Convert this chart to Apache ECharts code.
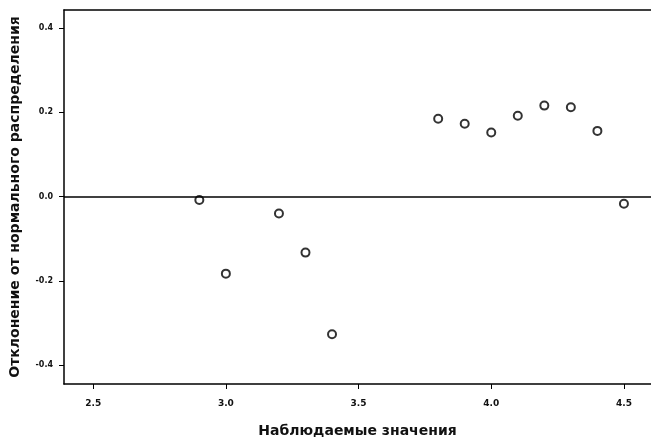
<!DOCTYPE html>
<html>
<head>
<meta charset="utf-8">
<script src="https://cdn.jsdelivr.net/npm/echarts@6/dist/echarts.min.js"></script>
<style>html,body{margin:0;padding:0;background:#fff;}#c{width:651px;height:439px;}</style>
</head>
<body>
<div id="c"></div>
<script>
var observed = [2.9, 3.0, 3.2, 3.3, 3.4, 3.8, 3.9, 4.0, 4.1, 4.2, 4.3, 4.4, 4.5];
var deviation = [-0.008, -0.183, -0.040, -0.133, -0.327, 0.185, 0.173, 0.152, 0.192, 0.216, 0.212, 0.156, -0.017];
var xTicks = [2.5, 3.0, 3.5, 4.0, 4.5];
var yTicks = [-0.4, -0.2, 0.0, 0.2, 0.4];
var xTitle = 'Наблюдаемые значения';
var yTitle = 'Отклонение от нормального распределения';

var points = observed.map(function (x, i) { return [x, deviation[i]]; });
var chart = echarts.init(document.getElementById('c'));
chart.setOption({
  backgroundColor: '#fff',
  animation: false,
  grid: { left: 64, top: 10, right: 0, bottom: 55, outerBoundsMode: 'none', containLabel: false },
  xAxis: [{
    type: 'value', min: 2.39, max: 4.602,
    name: xTitle, nameLocation: 'middle', nameGap: 40,
    nameTextStyle: { fontFamily: 'DejaVu Sans', fontSize: 14, fontWeight: 'bold', color: '#111' },
    axisLine: { onZero: false, lineStyle: { color: '#000', width: 1.5 } },
    axisTick: { show: true, length: 5, lineStyle: { color: '#000', width: 1 }, customValues: xTicks },
    axisLabel: { customValues: xTicks, margin: 15, fontFamily: 'DejaVu Sans', fontSize: 9, fontWeight: 'bold', color: '#111',
      formatter: function (v) { return v.toFixed(1); } },
    splitLine: { show: false }
  }, {
    type: 'value', position: 'top', min: 2.39, max: 4.602,
    axisLine: { show: true, onZero: false, lineStyle: { color: '#000', width: 1.5 } },
    axisTick: { show: false }, axisLabel: { show: false }, splitLine: { show: false }
  }],
  yAxis: {
    type: 'value', min: -0.445, max: 0.443,
    name: yTitle, nameLocation: 'middle', nameGap: 42,
    nameTextStyle: { fontFamily: 'DejaVu Sans', fontSize: 14, fontWeight: 'bold', color: '#111' },
    axisLine: { show: true, onZero: false, lineStyle: { color: '#000', width: 1.5 } },
    axisTick: { show: true, length: 5, lineStyle: { color: '#000', width: 1 }, customValues: yTicks },
    axisLabel: { customValues: yTicks, margin: 11, fontFamily: 'DejaVu Sans', fontSize: 8, fontWeight: 'bold', color: '#111',
      formatter: function (v) { return v.toFixed(1); } },
    splitLine: { show: false }
  },
  series: [{
    type: 'scatter',
    data: points,
    symbol: 'circle',
    symbolSize: 8,
    itemStyle: { color: '#fff', borderColor: '#000', borderWidth: 2 },
    markLine: {
      silent: true, symbol: 'none', label: { show: false },
      lineStyle: { color: '#000', width: 1.5, type: 'solid' },
      data: [{ yAxis: 0 }]
    }
  }]
});
</script>
</body>
</html>
